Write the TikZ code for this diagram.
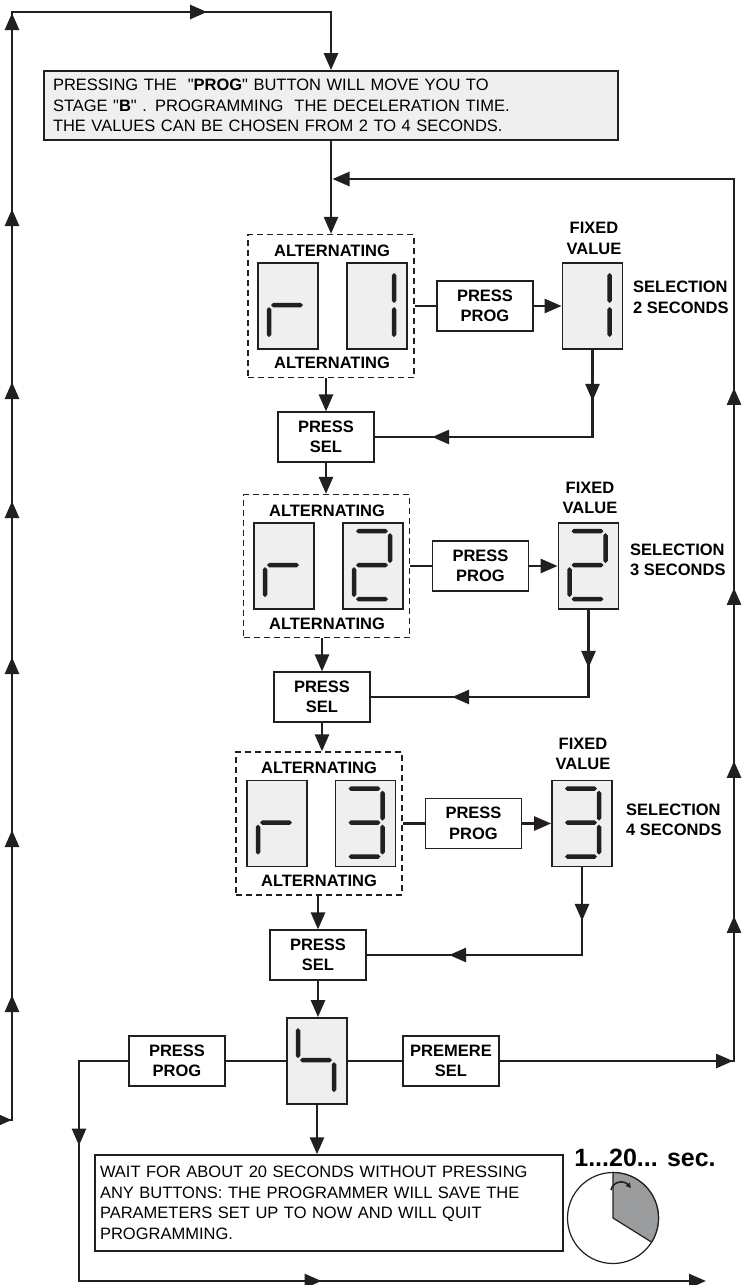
\documentclass[tikz,border=0pt]{standalone}
\usepackage{fontspec}
\setmainfont{Liberation Sans}[Ligatures=TeXOff]
\usepackage{tikz}
\usetikzlibrary{arrows.meta}
\usetikzlibrary{decorations.markings}
\usetikzlibrary{calc}
\definecolor{boxgray}{HTML}{EFEFEF}
\definecolor{sectorgray}{HTML}{9A9C9E}
\definecolor{inkcolor}{HTML}{231F20}
% seven segment pieces, box corner = (0,0), y downwards
\newcommand{\hseg}[3]{\fill[inkcolor] (#1,#3) -- (#1+2.2,#3-2.2) -- (#2-2.2,#3-2.2) -- (#2,#3) -- (#2-2.2,#3+2.2) -- (#1+2.2,#3+2.2) -- cycle;}
\newcommand{\vseg}[3]{\fill[inkcolor] (#1,#2) -- (#1+2.2,#2+2.2) -- (#1+2.2,#3-2.2) -- (#1,#3) -- (#1-2.2,#3-2.2) -- (#1-2.2,#2+2.2) -- cycle;}
\newcommand{\dsega}{\hseg{14}{46}{9}}
\newcommand{\dsegb}{\vseg{48}{11}{41}}
\newcommand{\dsegc}{\vseg{48}{45}{75}}
\newcommand{\dsegd}{\hseg{14}{46}{77}}
\newcommand{\dsege}{\vseg{12}{45}{75}}
\newcommand{\dsegf}{\vseg{12}{11}{41}}
\newcommand{\dsegg}{\hseg{14}{46}{43}}
\newcommand{\digitsegs}[2]{\begin{scope}[shift={(#1.north west)}]\foreach \s in {#2} {\csname dseg\s\endcsname}\end{scope}}

\begin{document}
\begin{tikzpicture}[x=1pt,y=-1pt,
  conn/.style={draw=inkcolor,line width=2.6pt},
  endarrow/.style={-{Triangle[length=17pt,width=14pt]}},
  arrowat/.style={postaction={decorate,decoration={markings,mark=at position #1 with {\arrow{Triangle[length=17pt,width=14pt]}}}}},
  txt/.style={font=\fontsize{16.5}{20.5}\selectfont,align=left},
  lbl/.style={font=\fontsize{16.5}{20.5}\selectfont\bfseries,align=center,inner sep=0pt},
  infobox/.style={draw=inkcolor,line width=1.8pt,txt},
  pressbox/.style={draw=inkcolor,line width=1.1pt,fill=white,lbl,minimum width=96pt,minimum height=50pt},
  altbox/.style={draw=inkcolor,line width=1.3pt,dash pattern=on 6pt off 4pt,minimum width=166pt,minimum height=143pt},
  digit/.style={draw=inkcolor,line width=1.8pt,fill=boxgray,minimum width=60pt,minimum height=86pt,inner sep=0pt}]
\useasboundingbox (0,0) rectangle (744,1285);

\node[infobox,fill=boxgray,inner xsep=9pt,text width=556pt,minimum height=69pt] (topbox) at (331,105.5)
  {PRESSING THE \ "\textbf{PROG}" BUTTON WILL MOVE YOU TO\\STAGE "\textbf{B}" . PROGRAMMING \ THE DECELERATION TIME.\\THE VALUES CAN BE CHOSEN FROM 2 TO 4 SECONDS.};

% stage r1
\node[altbox] (alt1) at (331,306) {};
\node[digit] (r1) at (288,306) {};
\node[digit] (v1) at (377,306) {};
\node[lbl] (alt1a) at (332,251) {ALTERNATING};
\node[lbl] (alt1b) at (332,363) {ALTERNATING};
\node[pressbox] (prog1) at (485,306) {PRESS\\PROG};
\node[digit] (fix1) at (592.5,306) {};
\node[lbl] (fix1l) at (594,238.5) {FIXED\\VALUE};
\node[lbl,align=left,anchor=west] (sel1l) at (633,297.5) {SELECTION\\2 SECONDS};
\node[pressbox] (sel1) at (326,437) {PRESS\\SEL};
\digitsegs{r1}{g,e}
\digitsegs{v1}{b,c}
\digitsegs{fix1}{b,c}

% stage r2
\node[altbox] (alt2) at (326.5,566) {};
\node[digit] (r2) at (284,566) {};
\node[digit] (v2) at (373,566) {};
\node[lbl] (alt2a) at (327,511) {ALTERNATING};
\node[lbl] (alt2b) at (327,624) {ALTERNATING};
\node[pressbox] (prog2) at (480.5,566) {PRESS\\PROG};
\node[digit] (fix2) at (588.5,566) {};
\node[lbl] (fix2l) at (590,498) {FIXED\\VALUE};
\node[lbl,align=left,anchor=west] (sel2l) at (630,560) {SELECTION\\3 SECONDS};
\node[pressbox] (sel2) at (322,697) {PRESS\\SEL};
\digitsegs{r2}{g,e}
\digitsegs{v2}{a,b,g,e,d}
\digitsegs{fix2}{a,b,g,e,d}

% stage r3
\node[altbox] (alt3) at (319,823.5) {};
\node[digit] (r3) at (277,823.5) {};
\node[digit] (v3) at (365.5,823.5) {};
\node[lbl] (alt3a) at (319,768) {ALTERNATING};
\node[lbl] (alt3b) at (319,881) {ALTERNATING};
\node[pressbox] (prog3) at (473.5,823.5) {PRESS\\PROG};
\node[digit] (fix3) at (582,823.5) {};
\node[lbl] (fix3l) at (583,754) {FIXED\\VALUE};
\node[lbl,align=left,anchor=west] (sel3l) at (626,820) {SELECTION\\4 SECONDS};
\node[pressbox] (sel3) at (318,955) {PRESS\\SEL};
\digitsegs{r3}{g,e}
\digitsegs{v3}{a,b,g,c,d}
\digitsegs{fix3}{a,b,g,c,d}

% exit
\node[digit] (four) at (317,1061) {};
\digitsegs{four}{f,g,c}
\node[pressbox] (premere) at (451,1061) {PREMERE\\SEL};
\node[pressbox] (progB) at (177,1061) {PRESS\\PROG};
\node[infobox,line width=1.5pt,inner xsep=5pt,text width=458pt,minimum height=96pt] (wait) at (329,1203)
  {WAIT FOR ABOUT 20 SECONDS WITHOUT PRESSING\\ANY BUTTONS: THE PROGRAMMER WILL SAVE THE\\PARAMETERS SET UP TO NOW AND WILL QUIT\\PROGRAMMING.};
\node[font=\fontsize{25}{30}\selectfont\bfseries,inner sep=0pt] (secs) at (645,1158) {1...20... sec.};

\coordinate (clk) at (613,1218);
\draw[draw=inkcolor,line width=1.2pt,fill=white] (clk) circle[radius=45.5];
\filldraw[draw=inkcolor,fill=sectorgray,line width=1.2pt] (clk) -- ++(0,-45.5) arc[start angle=-90,end angle=32,radius=45.5] -- cycle;
\draw[inkcolor,line width=1.6pt,-{Triangle[length=5pt,width=5pt]}] (611,1190) .. controls (613,1181) and (624,1180) .. (631,1188);

% loops
\coordinate (lin) at (0,1120);
\coordinate (lbot) at (12,1120);
\coordinate (ltop) at (12,12);
\draw[conn,endarrow,arrowat=11.8pt,arrowat=137pt,arrowat=302pt,arrowat=475pt,arrowat=631pt,arrowat=750pt,arrowat=923pt,arrowat=1119pt,arrowat=1315pt]
  (lin) -- (lbot) -- (ltop) -| (topbox.north);
\draw[conn,endarrow] (topbox.south) -- (alt1.north);

\coordinate (rbot) at (734,1061);
\coordinate (rtop) at (734,179);
\coordinate (join) at (332.5,179);
\draw[conn,endarrow,arrowat=233.5pt,arrowat=379.5pt,arrowat=534.5pt,arrowat=707.5pt,arrowat=907.5pt]
  (premere.east) -- (rbot) -- (rtop) -- (join);

\draw[conn] (alt1.east) -- (prog1.west);
\draw[conn,endarrow] (prog1.east) -- (fix1.west);
\draw[conn,endarrow] (sel1.north |- alt1.south) -- (sel1.north);
\draw[conn,arrowat=51pt,arrowat=247.5pt] (fix1.south) |- (sel1.east);
\draw[conn,endarrow] (sel1.south) -- (sel1.south |- alt2.north);

\draw[conn] (alt2.east) -- (prog2.west);
\draw[conn,endarrow] (prog2.east) -- (fix2.west);
\draw[conn,endarrow] (sel2.north |- alt2.south) -- (sel2.north);
\draw[conn,arrowat=58pt,arrowat=223.5pt] (fix2.south) |- (sel2.east);
\draw[conn,endarrow] (sel2.south) -- (sel2.south |- alt3.north);

\draw[conn] (alt3.east) -- (prog3.west);
\draw[conn,endarrow] (prog3.east) -- (fix3.west);
\draw[conn,endarrow] (sel3.north |- alt3.south) -- (sel3.north);
\draw[conn,arrowat=53.5pt,arrowat=220.5pt] (fix3.south) |- (sel3.east);
\draw[conn,endarrow] (sel3.south) -- (sel3.south |- four.north);

\coordinate (lcor) at (79,1061);
\coordinate (lfoot) at (79,1281);
\coordinate (rfoot) at (706,1281);
\draw[conn] (four.east) -- (premere.west);
\draw[conn] (four.west) -- (progB.east);
\draw[conn,endarrow,arrowat=134pt,arrowat=512pt] (progB.west) -- (lcor) -- (lfoot) -- (rfoot);
\draw[conn,endarrow] (four.south) -- (four.south |- wait.north);
\end{tikzpicture}
\end{document}
